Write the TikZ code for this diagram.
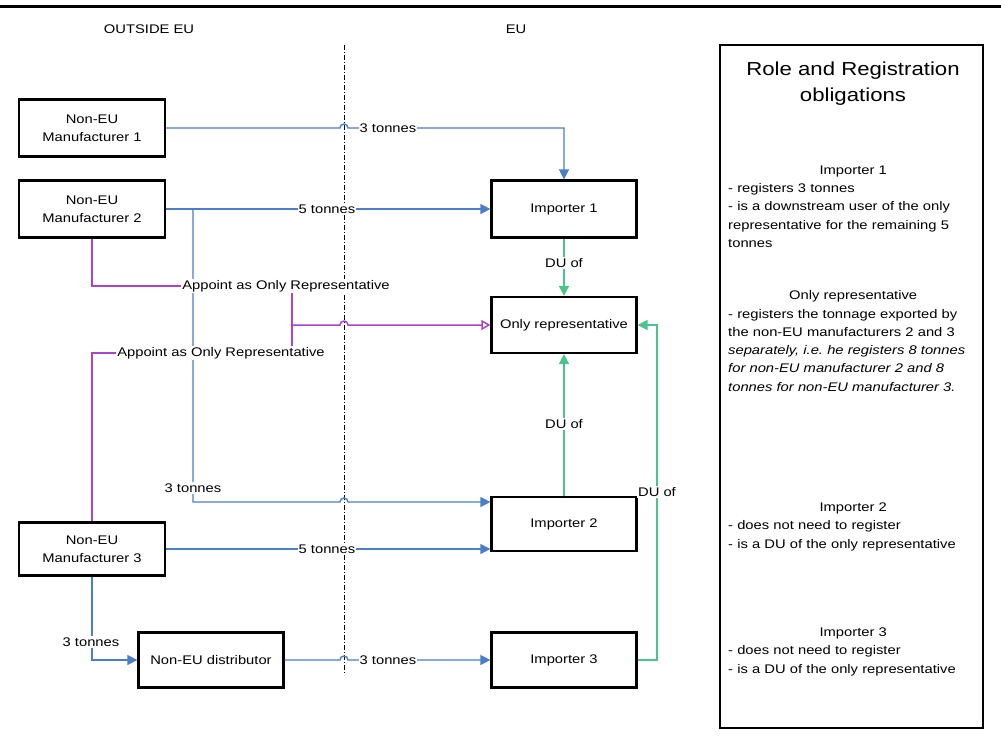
\documentclass[tikz,border=0pt]{standalone}
\usepackage{fontspec}
\setmainfont[FakeStretch=1.18]{Liberation Sans}
\usetikzlibrary{arrows.meta}
\newcommand{\fsz}{\fontsize{12.5}{18.3}\selectfont}
\newcommand{\ttlsz}{\fontsize{18.8}{26}\selectfont}
\definecolor{cblue}{RGB}{74,126,199}
\definecolor{cgreen}{RGB}{72,196,140}
\definecolor{cpurple}{RGB}{170,68,204}
\begin{document}
\begin{tikzpicture}[x=1pt,y=-1pt,
  box/.style={draw, line width=2.2pt, minimum width=146, minimum height=57, inner sep=0pt, align=center, font=\fsz},
  lbl/.style={fill=white, inner sep=1.2pt, font=\fsz},
  plain/.style={inner sep=0pt, font=\fsz},
  bline/.style={draw=cblue, line width=1.4pt},
  barrow/.style={bline, -{Triangle[length=10pt,width=10pt]}, fill=none},
  garrow/.style={draw=cgreen, line width=1.5pt, -{Triangle[length=10pt,width=10pt]}},
  parrow/.style={draw=cpurple, line width=1.5pt},
  divider/.style={line width=0.8pt, dash pattern=on 5pt off 2pt on 1pt off 2pt}
]
\path[use as bounding box] (0,0) rectangle (1001,747);
% top rule
\draw[line width=3pt] (0,6) -- (1001,6);
% headers
\node[plain] (hout) at (149,29) {OUTSIDE EU};
\node[plain] (heu) at (516,29) {EU};
% divider
\draw[divider] (344,45) -- (344,675);

% boxes
\node[box] (m1) at (92,128) {Non-EU\\Manufacturer 1};
\node[box] (m2) at (92,209) {Non-EU\\Manufacturer 2};
\node[box, minimum height=53] (m3) at (92,549) {Non-EU\\Manufacturer 3};
\node[box, minimum width=145, minimum height=55] (dist) at (211,660) {Non-EU distributor};
\node[box, minimum width=145] (i1) at (564,209) {Importer 1};
\node[box, minimum width=145, minimum height=56] (or) at (564,325) {Only representative};
\node[box, minimum width=145, minimum height=54] (i2) at (564,524) {Importer 2};
\node[box, minimum width=145, minimum height=55] (i3) at (564,660) {Importer 3};

% blue connectors
\draw[barrow] (m1.east) -- (340,128) arc[start angle=180,end angle=0,radius=4pt] -| (i1.north);
\draw[barrow] (m2.east) -- (i1.west);
\coordinate (b2) at (193,209);
\draw[barrow] (b2) -- (193,502) -- (340,502) arc[start angle=180,end angle=0,radius=4pt] -- (i2.west |- 0,502);
\draw[barrow] (m3.east) -- (i2.west |- m3.east);
\draw[barrow] (m3.south) |- (dist.west);
\draw[barrow] (dist.east) -- (340,660) arc[start angle=180,end angle=0,radius=4pt] -- (i3.west);

% purple connectors
\coordinate (pj) at (292,325);
\draw[parrow] (m2.south) |- (292,286) -- (pj);
\draw[parrow] (m3.north) |- (292,353) -- (pj);
\draw[parrow, -{Triangle[open,length=9pt,width=10pt]}] (pj) -- (340,325) arc[start angle=180,end angle=0,radius=4pt] -- (or.west);

% green connectors
\draw[garrow] (i1.south) -- (or.north);
\draw[garrow] (i2.north) -- (or.south);
\draw[garrow] (i3.east) -- (657,660) |- (or.east);

% connector labels
\node[lbl] (l1) at (388,128) {3 tonnes};
\node[lbl] (l2) at (327,209) {5 tonnes};
\node[lbl] (l3) at (193,488) {3 tonnes};
\node[lbl] (l4) at (327,549) {5 tonnes};
\node[lbl] (l5) at (91,642) {3 tonnes};
\node[lbl] (l6) at (388,660) {3 tonnes};
\node[lbl] (a1) at (286,286) {Appoint as Only Representative};
\node[lbl] (a2) at (221,353) {Appoint as Only Representative};
\node[lbl] (d1) at (564,263) {DU of};
\node[lbl] (d2) at (564,424) {DU of};
\node[lbl] (d3) at (657,492) {DU of};

% right panel
\node[draw, line width=2pt, minimum width=263, minimum height=683, inner sep=0pt] (panel) at (851.5,386.5) {};
\node[inner sep=0pt, align=center, font=\ttlsz, anchor=north] (ttl) at (853,62) {Role and Registration\\obligations};
\node[inner sep=0pt, text width=250, align=left, font=\fsz, anchor=north west] (t1) at (728,165.5)
  {\makebox[250pt][c]{Importer 1}\\- registers 3 tonnes\\- is a downstream user of the only\\representative for the remaining 5\\tonnes};
\node[inner sep=0pt, text width=250, align=left, font=\fsz, anchor=north west] (t2) at (728,290.5)
  {\makebox[250pt][c]{Only representative}\\- registers the tonnage exported by\\the non-EU manufacturers 2 and 3\\\textit{separately, i.e.\ he registers 8 tonnes}\\\textit{for non-EU manufacturer 2 and 8}\\\textit{tonnes for non-EU manufacturer 3.}};
\node[inner sep=0pt, text width=250, align=left, font=\fsz, anchor=north west] (t3) at (728,502.5)
  {\makebox[250pt][c]{Importer 2}\\- does not need to register\\- is a DU of the only representative};
\node[inner sep=0pt, text width=250, align=left, font=\fsz, anchor=north west] (t4) at (728,627.5)
  {\makebox[250pt][c]{Importer 3}\\- does not need to register\\- is a DU of the only representative};
\end{tikzpicture}
\end{document}
